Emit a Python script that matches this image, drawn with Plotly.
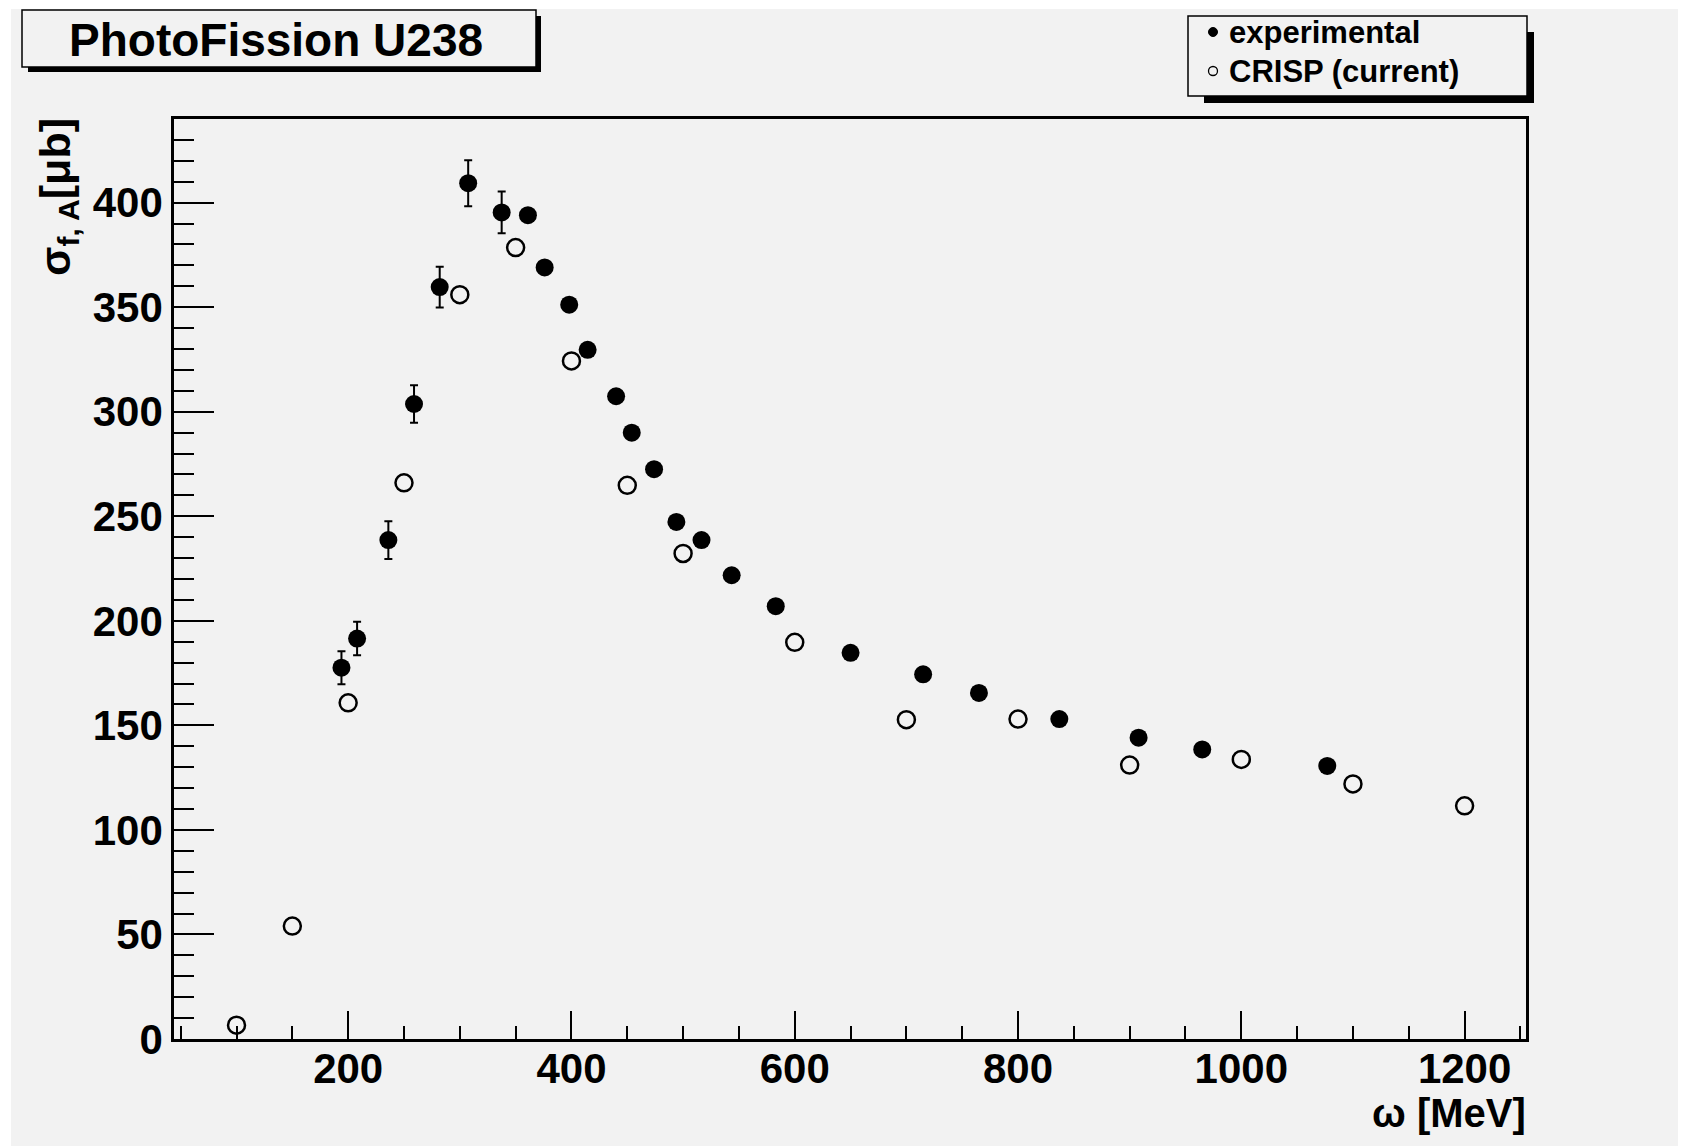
import plotly.graph_objects as go

# ---------------- data ----------------
exp_x = [194, 208, 236, 259, 282, 307.5, 337.5, 361, 376, 398, 414.5, 440, 454, 474,
         494, 516.5, 543.5, 583, 650, 715, 765, 837, 908, 965, 1077]
exp_y = [177.6, 191.5, 238.6, 303.7, 359.6, 409.3, 395.3, 394, 369, 351.2, 329.6, 307.4,
         290, 272.5, 247.3, 238.6, 221.8, 207, 184.7, 174.4, 165.5, 153, 144.1, 138.5, 130.6]
exp_err = [7.9, 8, 9, 9, 9.7, 11, 10, 0, 0, 0, 0, 0, 0, 0,
           0, 0, 0, 0, 0, 0, 0, 0, 0, 0, 0]

crisp_x = [100, 150, 200, 250, 300, 350, 400, 450, 500, 600, 700, 800, 900, 1000, 1100, 1200]
crisp_y = [6.6, 54, 160.8, 266, 356, 378.5, 324.3, 264.8, 232.2, 189.7, 152.7, 153, 131,
           133.7, 122, 111.5]

x_ticks = [200, 400, 600, 800, 1000, 1200]
y_ticks = [0, 50, 100, 150, 200, 250, 300, 350, 400]

title_text = "PhotoFission U238"
legend_labels = ["experimental", "CRISP (current)"]
x_title = "ω [MeV]"
y_title = "σ<sub>f, A</sub>[μb]"

# ---------------- layout geometry ----------------
OFFX, OFFY = 7, 7            # page body offset
W, H = 1688 - 8, 1148 - 8
REF_L, REF_T = 173, 118      # plot-area corner in reference pixels
PW, PH = 1352, 920
ML, MT = REF_L - OFFX, REF_T - OFFY
MR, MB = W - ML - PW, H - MT - PH
BG = "#f2f2f2"
FONT = "Liberation Sans"


def px(x):
    return (x - REF_L) / PW


def py(y):
    return (REF_T + PH - y) / PH


fig = go.Figure()

fig.add_trace(go.Scatter(
    x=exp_x, y=exp_y, mode="markers", name=legend_labels[0],
    marker=dict(symbol="circle", size=18, color="black"),
    error_y=dict(type="data", array=exp_err, visible=True, color="black",
                 thickness=2, width=4),
    showlegend=False,
))
fig.add_trace(go.Scatter(
    x=crisp_x, y=crisp_y, mode="markers", name=legend_labels[1],
    marker=dict(symbol="circle-open", size=17, color="black", line=dict(width=2.5, color="black")),
    showlegend=False,
))

shapes = []
shapes.append(dict(type="rect", xref="paper", yref="paper", layer="below",
                   x0=px(10), x1=px(1677), y0=py(8), y1=py(1145),
                   fillcolor=BG, line=dict(width=0)))
# title box shadow + box
shapes.append(dict(type="rect", xref="paper", yref="paper",
                   x0=px(27), x1=px(540), y0=py(15), y1=py(71),
                   fillcolor="black", line=dict(width=0)))
shapes.append(dict(type="rect", xref="paper", yref="paper",
                   x0=px(21), x1=px(535), y0=py(9), y1=py(66),
                   fillcolor=BG, line=dict(width=1.5, color="black")))
# legend box shadow + box
shapes.append(dict(type="rect", xref="paper", yref="paper",
                   x0=px(1203), x1=px(1533), y0=py(31), y1=py(102),
                   fillcolor="black", line=dict(width=0)))
shapes.append(dict(type="rect", xref="paper", yref="paper",
                   x0=px(1187), x1=px(1526), y0=py(15), y1=py(95),
                   fillcolor=BG, line=dict(width=1.5, color="black")))
r = 4.5
shapes.append(dict(type="circle", xref="paper", yref="paper",
                   x0=px(1212 - r), x1=px(1212 + r), y0=py(31 - r), y1=py(31 + r),
                   fillcolor="black", line=dict(width=1, color="black")))
shapes.append(dict(type="circle", xref="paper", yref="paper",
                   x0=px(1212 - r), x1=px(1212 + r), y0=py(70 - r), y1=py(70 + r),
                   fillcolor=BG, line=dict(width=1.3, color="black")))

annotations = [
    dict(text=title_text, xref="paper", yref="paper", x=px(275), y=py(39),
         xanchor="center", yanchor="middle", showarrow=False,
         font=dict(family=FONT, size=46, color="black", weight="bold")),
    dict(text=legend_labels[0], xref="paper", yref="paper", x=px(1226), y=py(31),
         xanchor="left", yanchor="middle", showarrow=False,
         font=dict(family=FONT, size=31, color="black", weight="bold")),
    dict(text=legend_labels[1], xref="paper", yref="paper", x=px(1226), y=py(70),
         xanchor="left", yanchor="middle", showarrow=False,
         font=dict(family=FONT, size=31, color="black", weight="bold")),
    dict(text=x_title, xref="paper", yref="paper", x=px(1527), y=py(1112),
         xanchor="right", yanchor="middle", showarrow=False,
         font=dict(family=FONT, size=40, color="black", weight="bold")),
    dict(text=y_title, xref="paper", yref="paper", x=px(57), y=py(196),
         xanchor="center", yanchor="middle", textangle=-90, showarrow=False,
         font=dict(family=FONT, size=43, color="black", weight="bold")),
]

fig.update_layout(
    width=W, height=H,
    margin=dict(l=ML, r=MR, t=MT, b=MB, pad=0),
    paper_bgcolor="white", plot_bgcolor=BG,
    shapes=shapes, annotations=annotations,
    showlegend=False,
)

fig.update_xaxes(
    range=[44, 1255], tickvals=x_ticks, ticktext=[str(v) for v in x_ticks],
    ticks="inside", ticklen=28, tickwidth=1.5, tickcolor="black",
    minor=dict(dtick=50, tick0=0, ticks="inside", ticklen=13, tickwidth=1.5, tickcolor="black"),
    showline=True, linecolor="black", linewidth=2.5, mirror=True,
    showgrid=False, zeroline=False, ticklabelstandoff=-9,
    tickfont=dict(family=FONT, size=42, color="black", weight="bold"),
)
fig.update_yaxes(
    range=[0, 440], tickvals=y_ticks, ticktext=[str(v) for v in y_ticks],
    ticks="inside", ticklen=40, tickwidth=1.5, tickcolor="black",
    minor=dict(dtick=10, tick0=0, ticks="inside", ticklen=20, tickwidth=1.5, tickcolor="black"),
    showline=True, linecolor="black", linewidth=2.5, mirror=True,
    showgrid=False, zeroline=False, ticklabelstandoff=0,
    tickfont=dict(family=FONT, size=42, color="black", weight="bold"),
)

fig.write_html("out.html")
